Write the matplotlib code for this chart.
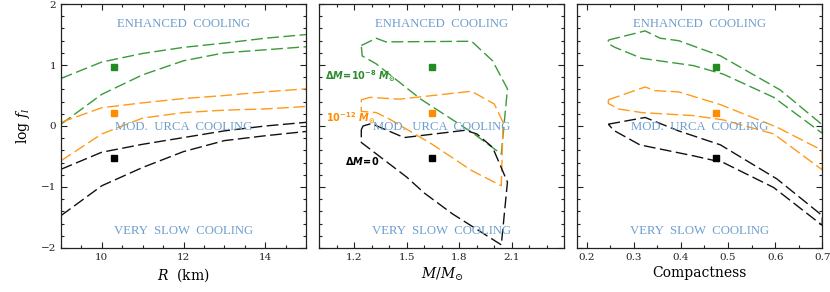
import numpy as np
import matplotlib
matplotlib.use('Agg')
import matplotlib.pyplot as plt
from matplotlib.ticker import MultipleLocator

plt.rcParams['font.family'] = 'DejaVu Serif'
plt.rcParams['mathtext.fontset'] = 'dejavuserif'
# font "custom" usato solo per le etichette delle curve (grassetto senza grazie)
plt.rcParams['mathtext.rm'] = 'DejaVu Sans:bold'
plt.rcParams['mathtext.it'] = 'DejaVu Sans:italic:bold'
plt.rcParams['mathtext.bf'] = 'DejaVu Sans:bold'

# colori
verde = '#3a9a3a'
arancio = '#ff9a1a'
nero = '#111111'
blu = '#6e9fcf'

# pannello 1: R (km), bande (bordo superiore / inferiore)
R = [9, 10, 11, 12, 13, 14, 15]
verde_sup = [0.78, 1.05, 1.19, 1.29, 1.36, 1.44, 1.50]
verde_inf = [0.03, 0.52, 0.84, 1.07, 1.20, 1.25, 1.30]
arancio_sup = [0.06, 0.30, 0.38, 0.45, 0.50, 0.56, 0.61]
arancio_inf = [-0.57, -0.13, 0.13, 0.22, 0.26, 0.28, 0.32]
nero_sup = [-0.71, -0.43, -0.30, -0.19, -0.08, 0.00, 0.06]
nero_inf = [-1.47, -0.98, -0.68, -0.42, -0.24, -0.16, -0.09]

# pannello 2: M/Msun, contorni chiusi
M_verde = [1.24, 1.325, 1.38, 1.87, 1.99, 2.075, 2.04, 1.87, 1.58, 1.325, 1.245, 1.24]
f_verde = [1.32, 1.44, 1.38, 1.39, 1.07, 0.61, -0.46, -0.10, 0.44, 1.02, 1.15, 1.32]
M_arancio = [1.24, 1.29, 1.457, 1.87, 2.0, 2.05, 2.04, 1.87, 1.645, 1.40, 1.325, 1.24, 1.24]
f_arancio = [0.43, 0.47, 0.44, 0.57, 0.36, 0.06, -0.98, -0.73, -0.30, 0.115, 0.22, 0.24, 0.43]
M_nero = [1.24, 1.25, 1.297, 1.485, 1.834, 1.90, 1.99, 2.075, 2.04, 1.76, 1.60, 1.50, 1.24, 1.24]
f_nero = [-0.06, 0.0, 0.04, -0.19, -0.07, -0.13, -0.35, -0.92, -1.95, -1.44, -1.10, -0.84, -0.27, -0.06]

# pannello 3: compattezza, contorni chiusi
C_verde = [0.246, 0.324, 0.356, 0.395, 0.484, 0.611, 0.70, 0.70, 0.597, 0.49, 0.427, 0.317, 0.26, 0.246, 0.246]
g_verde = [1.41, 1.56, 1.44, 1.40, 1.15, 0.59, 0.02, -0.12, 0.47, 0.85, 0.99, 1.11, 1.29, 1.35, 1.41]
C_arancio = [0.246, 0.324, 0.345, 0.395, 0.484, 0.604, 0.70, 0.70, 0.597, 0.49, 0.427, 0.317, 0.267, 0.246, 0.246]
g_arancio = [0.43, 0.64, 0.58, 0.56, 0.35, -0.02, -0.40, -0.72, -0.13, 0.10, 0.17, 0.22, 0.28, 0.37, 0.43]
C_nero = [0.246, 0.324, 0.395, 0.484, 0.604, 0.70, 0.70, 0.597, 0.49, 0.427, 0.313, 0.257, 0.246]
g_nero = [0.03, 0.14, -0.08, -0.31, -0.87, -1.47, -1.63, -1.01, -0.60, -0.49, -0.31, -0.07, 0.03]

# stella di riferimento
R_star, M_star, C_star = 10.3, 1.645, 0.474
f_star = [0.97, 0.22, -0.53]
colori_star = ['#228b22', '#ff8c00', 'black']

fig = plt.figure(figsize=(8.3, 2.92), dpi=100)
bottom, top = 0.151, 0.986
ax1 = fig.add_axes([0.0735, bottom, 0.2952, top - bottom])
ax2 = fig.add_axes([0.3847, bottom, 0.2952, top - bottom])
ax3 = fig.add_axes([0.6955, bottom, 0.2952, top - bottom])

stile = dict(lw=1.0, dashes=(8.5, 3.2))

ax1.plot(R, verde_sup, color=verde, **stile)
ax1.plot(R, verde_inf, color=verde, **stile)
ax1.plot(R, arancio_sup, color=arancio, **stile)
ax1.plot(R, arancio_inf, color=arancio, **stile)
ax1.plot(R, nero_sup, color=nero, **stile)
ax1.plot(R, nero_inf, color=nero, **stile)

ax2.plot(M_verde, f_verde, color=verde, **stile)
ax2.plot(M_arancio, f_arancio, color=arancio, **stile)
ax2.plot(M_nero, f_nero, color=nero, **stile)

ax3.plot(C_verde, g_verde, color=verde, **stile)
ax3.plot(C_arancio, g_arancio, color=arancio, **stile)
ax3.plot(C_nero, g_nero, color=nero, **stile)

for ax, xs in [(ax1, R_star), (ax2, M_star), (ax3, C_star)]:
    for f, c in zip(f_star, colori_star):
        ax.plot(xs, f, 's', color=c, ms=4.2, mec=c)

for ax in (ax1, ax2, ax3):
    ax.set_ylim(-2, 2)
    ax.yaxis.set_major_locator(MultipleLocator(1))
    ax.yaxis.set_minor_locator(MultipleLocator(0.2))
    ax.tick_params(which='both', direction='in', top=True, right=True, labelsize=7.5,
                   colors='#222222', width=0.8)
    ax.tick_params(which='major', length=4.5)
    ax.tick_params(which='minor', length=2.2)
    for s in ax.spines.values():
        s.set_linewidth(0.9)
        s.set_color('#222222')
    ax.text(0.5, 0.917, 'ENHANCED  COOLING', transform=ax.transAxes, ha='center', va='center',
            color=blu, fontsize=9.2, family='Liberation Serif')
    ax.text(0.5, 0.495, 'MOD.  URCA  COOLING', transform=ax.transAxes, ha='center', va='center',
            color=blu, fontsize=9.2, family='Liberation Serif')
    ax.text(0.5, 0.07, 'VERY  SLOW  COOLING', transform=ax.transAxes, ha='center', va='center',
            color=blu, fontsize=9.2, family='Liberation Serif')

ax1.set_xlim(9, 15)
ax1.xaxis.set_major_locator(MultipleLocator(2))
ax1.xaxis.set_minor_locator(MultipleLocator(0.5))
ax1.set_xlabel(r'$R$  (km)', fontsize=10, labelpad=3)
ax1.set_ylabel(r'log $f_l$', fontsize=10, labelpad=6)
ax1.set_yticks([-2, -1, 0, 1, 2])
ax1.set_yticklabels(['\u22122', '\u22121', '0', '1', '2'])

ax2.set_xlim(1.0, 2.4)
ax2.set_xticks([1.2, 1.5, 1.8, 2.1])
ax2.xaxis.set_minor_locator(MultipleLocator(0.1))
ax2.set_xlabel(r'$M/M_{\odot}$', fontsize=10, labelpad=3)
ax2.tick_params(labelleft=False)

ax3.set_xlim(0.18, 0.7)
ax3.set_xticks([0.2, 0.3, 0.4, 0.5, 0.6, 0.7])
ax3.xaxis.set_minor_locator(MultipleLocator(0.05))
ax3.set_xlabel('Compactness', fontsize=10, labelpad=3)
ax3.tick_params(labelleft=False)

# etichette delle curve nel pannello 2
ax2.text(1.03, 0.81, r'$\Delta M\!=\!\mathrm{10}^{-8}\ M_{\odot}$', color='#2e8b2e', fontsize=7,
         ha='left', va='center', math_fontfamily='custom')
ax2.text(1.04, 0.13, r'$\mathrm{10}^{-12}\ M_{\odot}$', color='#ff8c00', fontsize=7,
         ha='left', va='center', math_fontfamily='custom')
ax2.text(1.145, -0.57, r'$\Delta M\!=\!\mathrm{0}$', color='black', fontsize=7,
         ha='left', va='center', math_fontfamily='custom')

fig.savefig('out.png', dpi=100)
